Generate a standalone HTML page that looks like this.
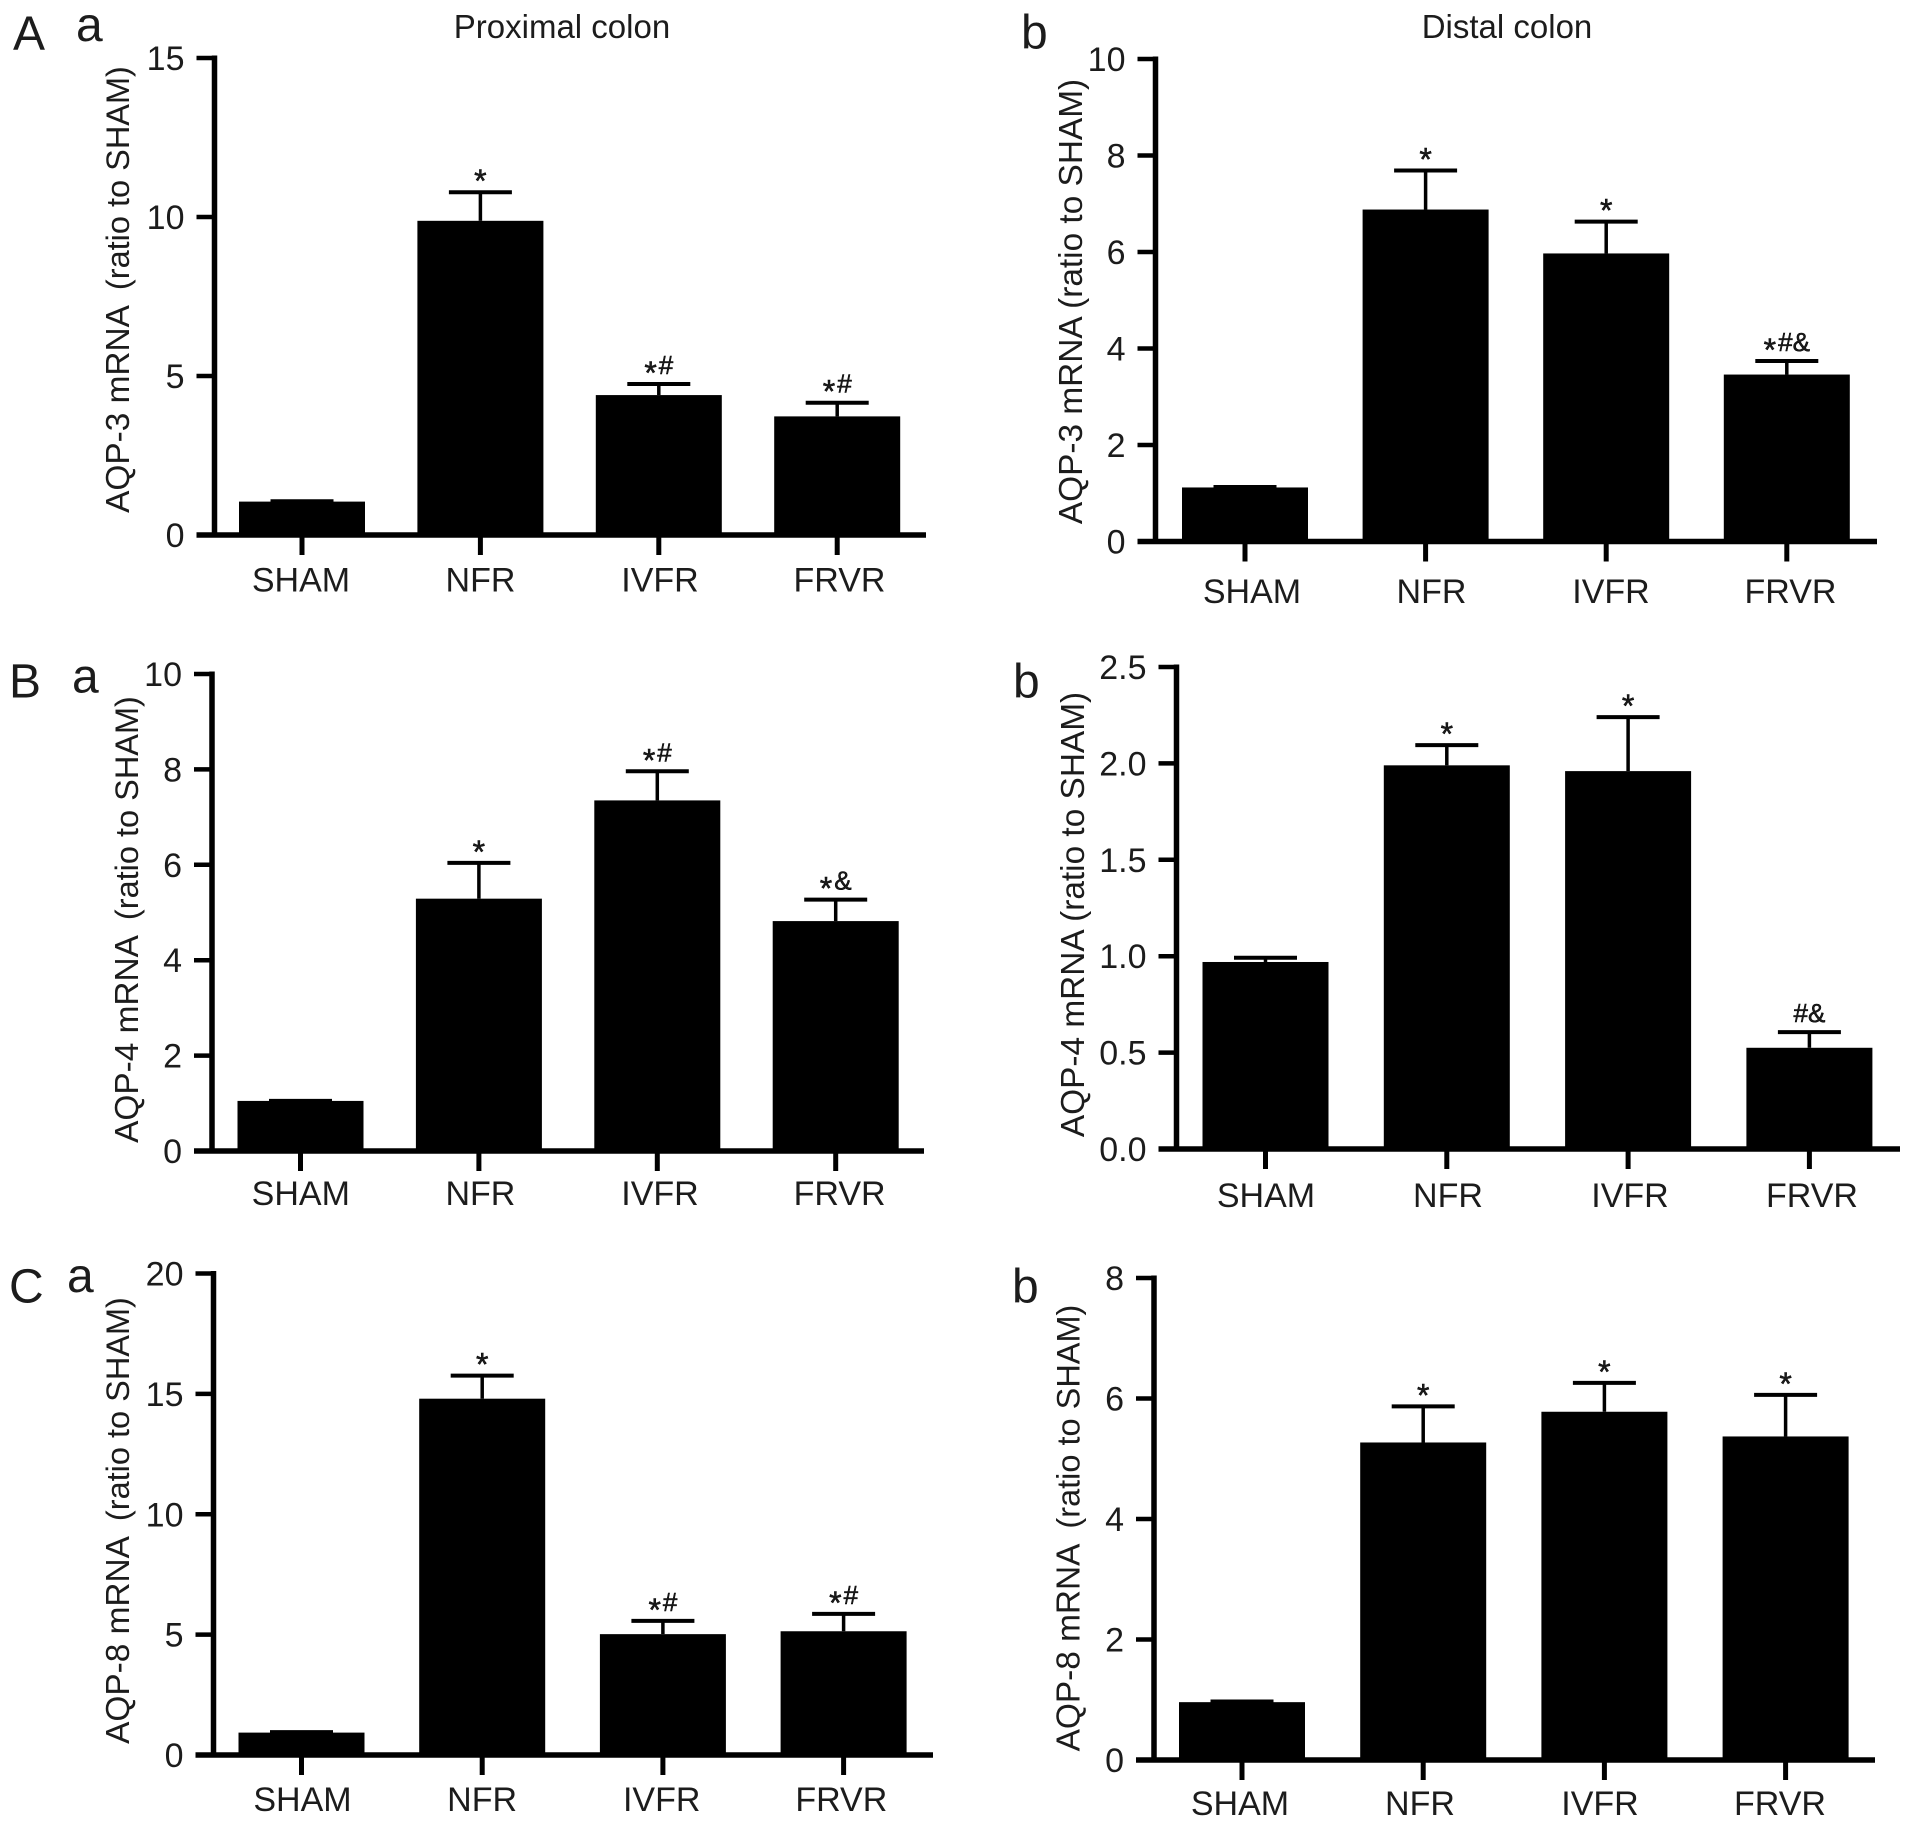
<!DOCTYPE html>
<html lang="en">
<head>
<meta charset="utf-8">
<title>AQP mRNA expression in proximal and distal colon</title>
<style>
  html, body { margin: 0; padding: 0; background: #fff; }
  body { width: 1913px; height: 1829px; overflow: hidden; }
  svg { display: block; }
  text { font-family: "Liberation Sans", sans-serif; fill: #1c1c1c; }
  .tick-label, .cat-label { font-size: 34px; }
  .y-title { font-size: 33.4px; text-anchor: middle; }
  .panel-title { font-size: 33px; text-anchor: middle; }
  .panel-letter { font-size: 48px; }
  .mark-text { stroke: #000; stroke-width: 0.5px; }
</style>
</head>
<body>
<svg id="figure" xmlns="http://www.w3.org/2000/svg" width="1913" height="1829" viewBox="0 0 1913 1829">
  <rect x="0" y="0" width="1913" height="1829" fill="#ffffff"/>
  <text class="panel-title" x="562" y="38">Proximal colon</text>
  <text class="panel-title" x="1507" y="38">Distal colon</text>
  <text class="panel-letter" x="13" y="49.5">A</text>
  <text class="panel-letter" x="76" y="41">a</text>
  <text class="panel-letter" x="1021" y="48.5">b</text>
  <text class="panel-letter" x="9" y="697.5">B</text>
  <text class="panel-letter" x="72" y="692.5">a</text>
  <text class="panel-letter" x="1013" y="697.5">b</text>
  <text class="panel-letter" x="9" y="1302.5">C</text>
  <text class="panel-letter" x="67" y="1292">a</text>
  <text class="panel-letter" x="1012" y="1302.5">b</text>
</svg>
<script>
// ---- Chart data ----
const categories = ["SHAM", "NFR", "IVFR", "FRVR"];

const aqp3ProximalMeans = [1.05, 9.88, 4.4, 3.73];
const aqp3ProximalErrors = [0.01, 0.9, 0.35, 0.43];
const aqp3ProximalTicks = ["0", "5", "10", "15"];
const aqp3ProximalMarks = ["", "*", "*#", "*#"];

const aqp3DistalMeans = [1.12, 6.88, 5.97, 3.46];
const aqp3DistalErrors = [0.01, 0.81, 0.66, 0.28];
const aqp3DistalTicks = ["0", "2", "4", "6", "8", "10"];
const aqp3DistalMarks = ["", "*", "*", "*#&"];

const aqp4ProximalMeans = [1.05, 5.29, 7.35, 4.82];
const aqp4ProximalErrors = [0.0, 0.75, 0.61, 0.45];
const aqp4ProximalTicks = ["0", "2", "4", "6", "8", "10"];
const aqp4ProximalMarks = ["", "*", "*#", "*&"];

const aqp4DistalMeans = [0.97, 1.99, 1.96, 0.525];
const aqp4DistalErrors = [0.022, 0.105, 0.28, 0.081];
const aqp4DistalTicks = ["0.0", "0.5", "1.0", "1.5", "2.0", "2.5"];
const aqp4DistalMarks = ["", "*", "*", "#&"];

const aqp8ProximalMeans = [0.93, 14.8, 5.02, 5.14];
const aqp8ProximalErrors = [0.02, 0.96, 0.55, 0.72];
const aqp8ProximalTicks = ["0", "5", "10", "15", "20"];
const aqp8ProximalMarks = ["", "*", "*#", "*#"];

const aqp8DistalMeans = [0.96, 5.27, 5.78, 5.37];
const aqp8DistalErrors = [0.01, 0.6, 0.48, 0.69];
const aqp8DistalTicks = ["0", "2", "4", "6", "8"];
const aqp8DistalMarks = ["", "*", "*", "*"];

// ---- Panel layout ----
const panels = [
  { id: "a-a", titleHead: "AQP-3 mRNA", titleTail: " (ratio to SHAM)", titleGap: 6, means: aqp3ProximalMeans, errors: aqp3ProximalErrors, ticks: aqp3ProximalTicks, marks: aqp3ProximalMarks,
    axisX: 214.5, top: 58, zero: 535, right: 926, barStart: 302, barStep: 178.4, labelStart: 301, labelStep: 179.5, labelY: 591.5, titleX: 129, titleY: 289.5 },
  { id: "a-b", titleHead: "AQP-3 mRNA", titleTail: " (ratio to SHAM)", titleGap: 0, means: aqp3DistalMeans, errors: aqp3DistalErrors, ticks: aqp3DistalTicks, marks: aqp3DistalMarks,
    axisX: 1155.5, top: 59, zero: 541.5, right: 1877, barStart: 1245, barStep: 180.6, labelStart: 1252, labelStep: 179.5, labelY: 603, titleX: 1082, titleY: 301.5 },
  { id: "b-a", titleHead: "AQP-4 mRNA", titleTail: " (ratio to SHAM)", titleGap: 6, means: aqp4ProximalMeans, errors: aqp4ProximalErrors, ticks: aqp4ProximalTicks, marks: aqp4ProximalMarks,
    axisX: 212, top: 674, zero: 1151, right: 924, barStart: 300.5, barStep: 178.4, labelStart: 300.8, labelStep: 179.6, labelY: 1205, titleX: 138, titleY: 919.5 },
  { id: "b-b", titleHead: "AQP-4 mRNA", titleTail: " (ratio to SHAM)", titleGap: 0, means: aqp4DistalMeans, errors: aqp4DistalErrors, ticks: aqp4DistalTicks, marks: aqp4DistalMarks,
    axisX: 1176.5, top: 667, zero: 1149, right: 1900, barStart: 1265.5, barStep: 181.3, labelStart: 1266, labelStep: 182, labelY: 1207, titleX: 1084, titleY: 914.5 },
  { id: "c-a", titleHead: "AQP-8 mRNA", titleTail: " (ratio to SHAM)", titleGap: 6, means: aqp8ProximalMeans, errors: aqp8ProximalErrors, ticks: aqp8ProximalTicks, marks: aqp8ProximalMarks,
    axisX: 213.5, top: 1273.5, zero: 1755, right: 933, barStart: 301.5, barStep: 180.7, labelStart: 302.5, labelStep: 179.6, labelY: 1811, titleX: 129, titleY: 1520.5 },
  { id: "c-b", titleHead: "AQP-8 mRNA", titleTail: " (ratio to SHAM)", titleGap: 6, means: aqp8DistalMeans, errors: aqp8DistalErrors, ticks: aqp8DistalTicks, marks: aqp8DistalMarks,
    axisX: 1154, top: 1278, zero: 1760, right: 1875, barStart: 1242, barStep: 181.2, labelStart: 1240, labelStep: 180, labelY: 1815, titleX: 1079.5, titleY: 1528 }
];

const SVG_NS = "http://www.w3.org/2000/svg";
const figure = document.getElementById("figure");
const INK = "#000000";

function make(tag, attrs, parent) {
  const el = document.createElementNS(SVG_NS, tag);
  for (const key in attrs) el.setAttribute(key, attrs[key]);
  parent.appendChild(el);
  return el;
}

function drawPanel(p) {
  const group = make("g", {}, figure);
  
  

  const maxValue = parseFloat(p.ticks[p.ticks.length - 1]);
  const yScale = function (v) { return p.zero - (v / maxValue) * (p.zero - p.top); };
  const xScale = function (i) { return p.barStart + i * p.barStep; };
  const barWidth = 126;
  const capWidth = 63;

  // bars and error bars
  p.means.forEach(function (mean, i) {
    const cx = xScale(i);
    const barTop = yScale(mean);
    const capY = yScale(mean + p.errors[i]);

    const bar = make("rect", { x: cx - barWidth / 2, y: barTop, width: barWidth, height: p.zero - barTop, fill: INK }, group);
    
    

    const stem = make("line", { x1: cx, x2: cx, y1: barTop, y2: capY, stroke: INK, "stroke-width": 3.5 }, group);
    
    

    const cap = make("line", { x1: cx - capWidth / 2, x2: cx + capWidth / 2, y1: capY, y2: capY, stroke: INK, "stroke-width": 4 }, group);
    
    

    if (p.marks[i]) {
      const mark = make("text", { class: "mark-text", x: cx, y: capY, "text-anchor": "middle" }, group);
      
      
      let raised = false;
      Array.from(p.marks[i]).forEach(function (ch, k) {
        const span = make("tspan", {}, mark);
        span.textContent = ch;
        if (ch === "*") {
          span.setAttribute("font-size", "32");
        } else {
          span.setAttribute("font-size", "26");
          if (!raised) { span.setAttribute("dy", "-10"); raised = true; }
          if (k === 1 && p.marks[i][0] === "*") span.setAttribute("dx", "2");
        }
      });
    }
  });

  // y axis
  const yAxis = make("line", { x1: p.axisX, x2: p.axisX, y1: p.top - 2.5, y2: p.zero + 2.5, stroke: INK, "stroke-width": 5.5 }, group);
  
  

  // x axis
  const xAxis = make("line", { x1: p.axisX - 18, x2: p.right, y1: p.zero, y2: p.zero, stroke: INK, "stroke-width": 5.5 }, group);
  
  

  // y ticks and labels
  p.ticks.forEach(function (label) {
    const y = yScale(parseFloat(label));
    const tick = make("line", { x1: p.axisX - 18, x2: p.axisX, y1: y, y2: y, stroke: INK, "stroke-width": 4.5 }, group);
    
    

    const text = make("text", { class: "tick-label", x: p.axisX - 30, y: y + 12, "text-anchor": "end" }, group);
    text.textContent = label;
    
    
  });

  // x ticks and labels
  categories.forEach(function (name, i) {
    const tx = xScale(i);
    const tick = make("line", { x1: tx, x2: tx, y1: p.zero, y2: p.zero + 20, stroke: INK, "stroke-width": 5 }, group);
    
    

    const text = make("text", { class: "cat-label", x: p.labelStart + i * p.labelStep, y: p.labelY, "text-anchor": "middle" }, group);
    text.textContent = name;
    
    
  });

  // y axis title
  const title = make("text", { class: "y-title", x: p.titleX, y: p.titleY, transform: "rotate(-90 " + p.titleX + " " + p.titleY + ")" }, group);
  
  
  const head = make("tspan", {}, title);
  head.textContent = p.titleHead;
  const tail = make("tspan", { dx: p.titleGap }, title);
  tail.textContent = p.titleTail;
  if (p.titleGap > 0) tail.setAttribute("font-size", "32.5");
}

panels.forEach(drawPanel);
</script>
</body>
</html>
